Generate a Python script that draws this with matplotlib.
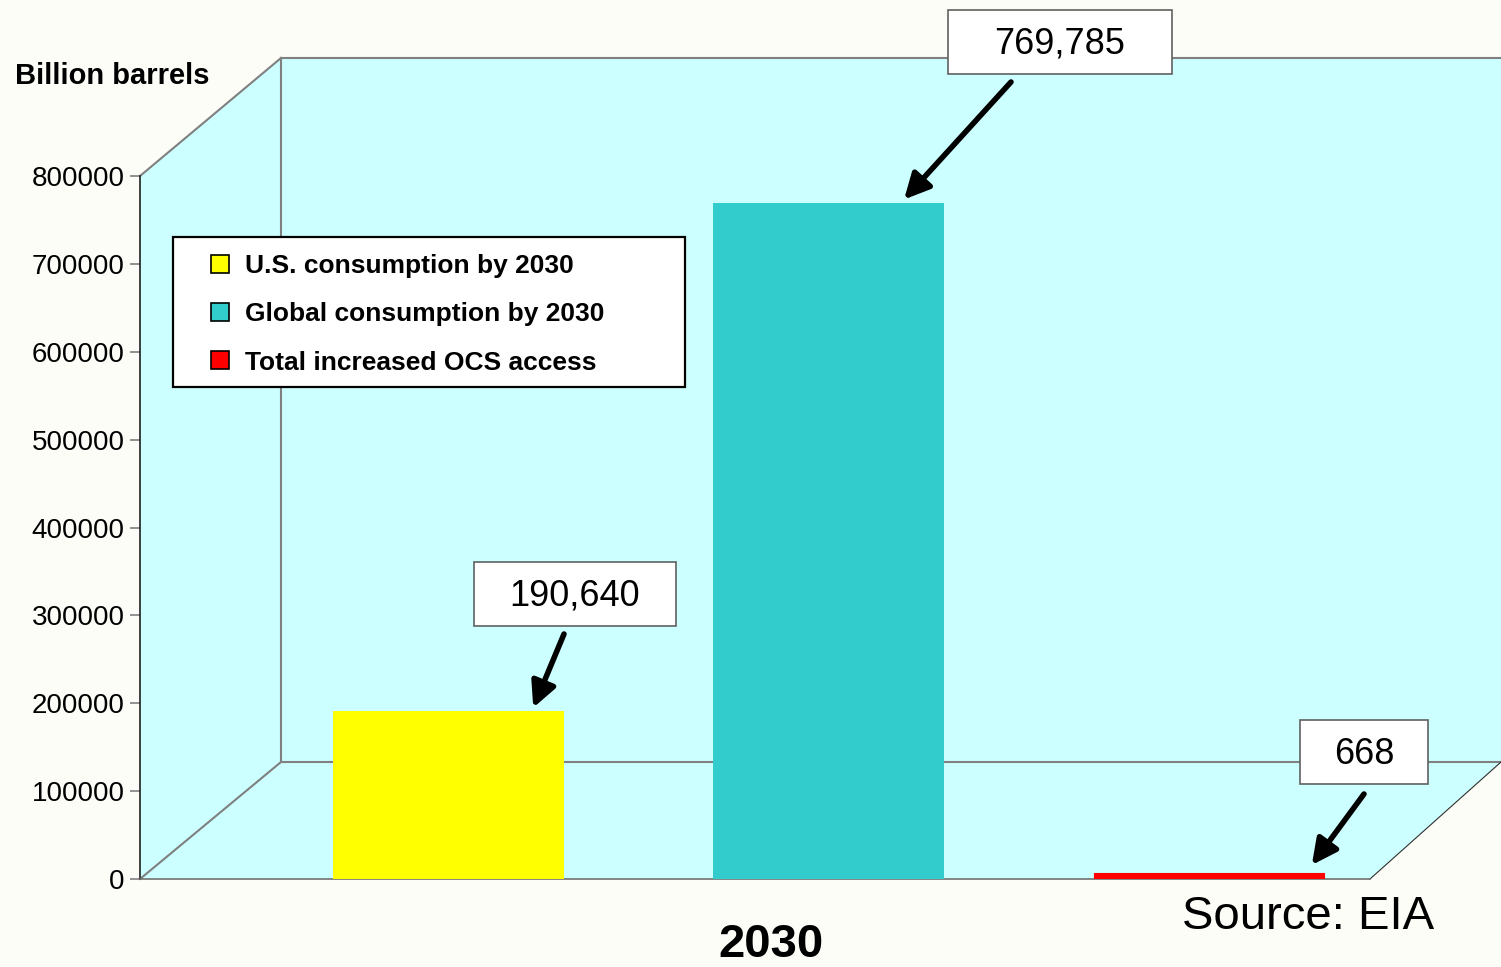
import matplotlib
matplotlib.use("Agg")
import matplotlib.pyplot as plt
from matplotlib.patches import Polygon, Rectangle, Patch
from matplotlib.lines import Line2D

plt.rcParams['font.family'] = ['Liberation Sans', 'DejaVu Sans']

# Data
series_names = ["U.S. consumption by 2030", "Global consumption by 2030", "Total increased OCS access"]
values = [190640, 769785, 668]
value_labels = ["190,640", "769,785", "668"]
bar_colors = ["#FFFF00", "#33CCCC", "#FF0000"]
yticks = [0, 100000, 200000, 300000, 400000, 500000, 600000, 700000, 800000]
category = "2030"

W, H = 1501, 967
BG = "#FDFDF8"
WALL = "#CCFFFF"
EDGE = "#808080"

fig = plt.figure(figsize=(W / 100, H / 100), dpi=100, facecolor=BG)

# Pixel-space layer for the chart box (walls, floor, frames)
deco = fig.add_axes([0, 0, 1, 1], zorder=0)
deco.set_xlim(0, W)
deco.set_ylim(H, 0)
deco.axis("off")
deco.patch.set_alpha(0)

side = [(140, 176), (281, 58), (281, 762), (140, 879)]
floor = [(140, 879), (1370, 879), (1501, 762), (281, 762)]
deco.add_patch(Polygon(side, closed=True, facecolor=WALL, edgecolor="none", zorder=1))
deco.add_patch(Rectangle((281, 58), W - 281 + 2, 762 - 58, facecolor=WALL, edgecolor="none", zorder=1))
deco.add_patch(Polygon(floor, closed=True, facecolor=WALL, edgecolor="none", zorder=1))

for xs, ys in [((281, W + 2), (58, 58)), ((281, 281), (58, 762)), ((281, W + 2), (762, 762)),
               ((140, 281), (176, 58)), ((140, 281), (879, 762))]:
    deco.add_line(Line2D(xs, ys, color=EDGE, lw=1.5, zorder=2))
deco.add_line(Line2D((1370, 1501), (879, 762), color="#303030", lw=0.8, zorder=2))

# Legend frame
deco.add_patch(Rectangle((173, 237), 512, 150, facecolor="white", edgecolor="black", lw=1.6, zorder=5))

# Value boxes
boxes = [((474, 562), 202, 64), ((948, 10), 224, 64), ((1300, 720), 128, 64)]
for (bx, by), bw, bh in boxes:
    deco.add_patch(Rectangle((bx, by), bw, bh, facecolor="white", edgecolor="#606060", lw=1.2, zorder=5))
for ((bx, by), bw, bh), lab in zip(boxes, value_labels):
    deco.text(bx + bw / 2, by + bh / 2 + 2, lab, ha="center", va="center", fontsize=26, color="black", zorder=6)

# Main plotting axes (front plane)
ax = fig.add_axes([140 / W, 1 - 879 / H, 1230 / W, 703 / H], zorder=2)
ax.patch.set_alpha(0)
positions = [0, 1, 2]
ax.bar(positions, values, width=[0.606, 0.606, 0.578], color=bar_colors, edgecolor=bar_colors,
       linewidth=[0, 0, 8], zorder=3)
ax.set_xlim(-0.8116, 2.424)
ax.set_ylim(0, 800000)
ax.set_yticks(yticks)
ax.set_yticklabels([str(t) for t in yticks])
ax.set_xticks([])
ax.tick_params(axis="y", length=7, width=1.2, color=EDGE, labelsize=20, pad=4)
for s in ["top", "right"]:
    ax.spines[s].set_visible(False)
ax.spines["left"].set_color("#202020")
ax.spines["left"].set_linewidth(1.2)
ax.spines["bottom"].set_color("#707070")
ax.spines["bottom"].set_linewidth(1.2)

# Arrows from the value boxes to the bars
tips_x = [0.2187, 1.191, 2.245]
tails = [(564, 634), (1011, 82), (1364, 794)]
shrinks = [3, 3, 12]
for tx, v, (px, py), sh in zip(tips_x, values, tails, shrinks):
    ax.annotate("", xy=(tx, v), xycoords="data", xytext=(px, H - py), textcoords="figure pixels",
                arrowprops=dict(arrowstyle="-|>", lw=4, color="black", mutation_scale=38,
                                shrinkA=0, shrinkB=sh), zorder=6)

# Legend
handles = [Patch(facecolor=c, edgecolor="black", lw=1.2) for c in bar_colors]
leg = ax.legend(handles, series_names, loc="upper left", bbox_to_anchor=(211 / W, 1 - 254 / H),
                bbox_transform=fig.transFigure, frameon=False, borderpad=0, borderaxespad=0,
                handlelength=0.68, handleheight=0.68, handletextpad=0.62, labelspacing=0.92,
                prop={"weight": "bold", "size": 19})
leg.set_zorder(7)

fig.text(15 / W, 1 - 76 / H, "Billion barrels", ha="left", va="center", fontsize=21, fontweight="bold")
fig.text(771 / W, 1 - 945 / H, category, ha="center", va="center", fontsize=34, fontweight="bold")
fig.text(1308 / W, 1 - 917 / H, "Source: EIA", ha="center", va="center", fontsize=34)

fig.savefig("out.png", dpi=100, facecolor=BG)
